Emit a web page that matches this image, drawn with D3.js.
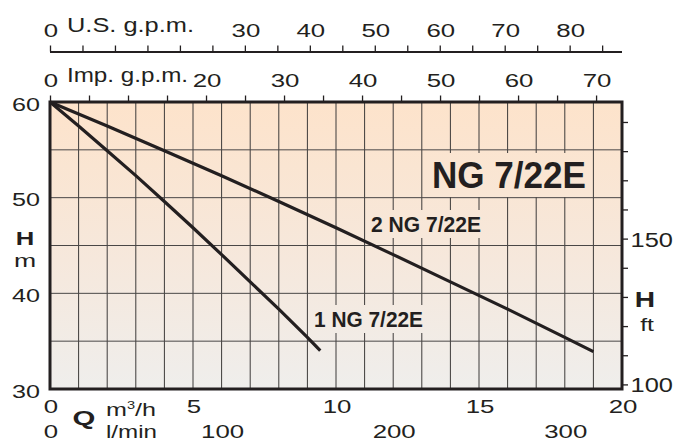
<!DOCTYPE html>
<html>
<head>
<meta charset="utf-8">
<script src="https://cdn.jsdelivr.net/npm/d3@7"></script>
<style>
  html,body{margin:0;padding:0;background:#fff;}
  svg{display:block;}
  text{font-family:"Liberation Sans",Arial,Helvetica,sans-serif;fill:#231f20;}
</style>
</head>
<body>
<svg id="chart" width="696" height="441"></svg>
<script>
// ---------- data ----------
const qTicks = [0, 5, 10, 15, 20];              // m3/h labels
const qGrid = d3.range(0, 21, 1);               // m3/h grid lines
const lminTicks = [0, 100, 200, 300];           // l/min labels
const usTicks = d3.range(0, 86, 5);             // U.S. g.p.m. tick marks
const usLabels = [0, 30, 40, 50, 60, 70, 80];
const impTicks = d3.range(0, 71, 5);            // Imp. g.p.m. tick marks
const impLabels = [0, 20, 30, 40, 50, 60, 70];
const hmLabels = [30, 40, 50, 60];              // H m labels
const hmGrid = [35, 40, 45, 50, 55];
const ftTicks = d3.range(100, 191, 10);         // H ft tick marks
const ftLabels = [100, 150];

const q1 = [0, 1, 2, 3, 4, 5, 6, 7, 8, 9, 9.45];
const h1 = [60, 57.5, 54.9, 52.3, 49.6, 46.85, 44.05, 41.2, 38.35, 35.4, 34.0];
const q2 = [0, 2, 4, 6, 8, 10, 12, 14, 16, 18, 19];
const h2 = [60, 57.5, 54.9, 52.3, 49.6, 46.85, 44.05, 41.2, 38.35, 35.4, 33.9];

const title = "NG 7/22E";
const name1 = "1 NG 7/22E";
const name2 = "2 NG 7/22E";

// ---------- scales ----------
const L = 50, R = 622, T = 102, B = 389;
const x = d3.scaleLinear([0, 20], [L, R]);
const y = d3.scaleLinear([30, 60], [B, T]);
const xUS = d3.scaleLinear([0, 20 * 4.40287], [L, R]);
const xImp = d3.scaleLinear([0, 20 * 3.66615], [L, R]);
const xL = d3.scaleLinear([0, 20 * 1000 / 60], [L, R]);
const yFt = d3.scaleLinear([30 / 0.3048, 60 / 0.3048], [B, T]);

const svg = d3.select("#chart");
const ink = "#231f20";

// gradient
const defs = svg.append("defs");
const grad = defs.append("linearGradient").attr("id", "bg")
  .attr("gradientUnits", "userSpaceOnUse")
  .attr("x1", 0).attr("y1", T).attr("x2", 0).attr("y2", B);
grad.append("stop").attr("offset", "0%").attr("stop-color", "#fde3cb");
grad.append("stop").attr("offset", "55%").attr("stop-color", "#f6e8dc");
grad.append("stop").attr("offset", "100%").attr("stop-color", "#efeeec");

svg.append("rect").attr("x", L).attr("y", T).attr("width", R - L).attr("height", B - T)
  .attr("fill", "url(#bg)");

// grid
const grid = svg.append("g");
grid.selectAll("line.v").data(qGrid.filter(d => d > 0 && d < 20)).join("line")
  .attr("x1", d => x(d)).attr("x2", d => x(d)).attr("y1", T).attr("y2", B)
  .attr("stroke", "#3d3b3a").attr("stroke-width", 1);
grid.selectAll("line.h").data(hmGrid).join("line")
  .attr("x1", L).attr("x2", R).attr("y1", d => y(d)).attr("y2", d => y(d))
  .attr("stroke", "#4a4746").attr("stroke-width", 1);

// helper for wide text
function label(g, px, py, txt, o) {
  const t = g.append("text")
    .attr("transform", `translate(${px},${py}) scale(${o.sx || 1},1)`)
    .attr("text-anchor", o.anchor || "middle")
    .attr("font-size", o.size)
    .attr("font-weight", o.weight || "normal")
    .text(txt);
  if (o.len) t.attr("textLength", o.len).attr("lengthAdjust", "spacingAndGlyphs");
  return t;
}

// curve labels with background boxes
const lab = svg.append("g");
function boxed(px, py, txt, size, len) {
  const g = lab.append("g");
  const r = g.append("rect").attr("fill", "url(#bg)");
  const t = label(g, px, py, txt, {size: size, anchor: "start", weight: "bold", len: len});
  const bb = t.node().getBBox();
  r.attr("x", px + bb.x - 5).attr("y", py + bb.y - 2).attr("width", bb.width + 10).attr("height", bb.height + 3);
}
boxed(432, 188, title, 37, 154);
boxed(371, 232, name2, 22, 110);
boxed(314, 327, name1, 22, 109);

// curves
const line = d3.line().x(d => x(d[0])).y(d => y(d[1]));
svg.append("path").datum(q1.map((q, i) => [q, h1[i]])).attr("d", line)
  .attr("fill", "none").attr("stroke", ink).attr("stroke-width", 3.2);
svg.append("path").datum(q2.map((q, i) => [q, h2[i]])).attr("d", line)
  .attr("fill", "none").attr("stroke", ink).attr("stroke-width", 3.2);

// top US axis
const gUS = svg.append("g").attr("transform", "translate(0,51.5)")
  .call(d3.axisTop(xUS).tickValues(usTicks).tickSize(6).tickSizeOuter(0).tickFormat(""));
gUS.select(".domain").attr("stroke", ink).attr("stroke-width", 2)
  .attr("d", `M${L},0.5H${R}`);
gUS.selectAll(".tick line").attr("stroke", ink).attr("stroke-width", 1.3);

// Imp axis ticks (on top of plot)
const gImp = svg.append("g").attr("transform", `translate(0,${T})`)
  .call(d3.axisTop(xImp).tickValues(impTicks).tickSize(6.5).tickSizeOuter(0).tickFormat(""));
gImp.select(".domain").remove();
gImp.selectAll(".tick line").attr("stroke", ink).attr("stroke-width", 1.3);

// right ft ticks
const gFt = svg.append("g").attr("transform", `translate(${R},0)`)
  .call(d3.axisRight(yFt).tickValues(ftTicks).tickSize(6).tickSizeOuter(0).tickFormat(""));
gFt.select(".domain").remove();
gFt.selectAll(".tick line").attr("stroke", ink).attr("stroke-width", 1.3);

// frame
svg.append("rect").attr("x", L).attr("y", T).attr("width", R - L).attr("height", B - T)
  .attr("fill", "none").attr("stroke", ink).attr("stroke-width", 3);

// labels
const tl = svg.append("g");
const SX = 1.36;
usLabels.forEach(v => label(tl, xUS(v) + 1, 37, v, {size: 19, sx: SX}));
label(tl, 67, 32, "U.S. g.p.m.", {size: 21, anchor: "start", len: 127});
impLabels.forEach(v => label(tl, xImp(v) + 1, 87, v, {size: 19, sx: SX}));
label(tl, 67, 82, "Imp. g.p.m.", {size: 21, anchor: "start", len: 121});

hmLabels.forEach(v => label(tl, 40, y(v) + 8.5, v, {size: 18.5, sx: SX, anchor: "end"}));
ftLabels.forEach(v => label(tl, 630.5, yFt(v) + 8, v, {size: 20, sx: 1.27, anchor: "start"}));

label(tl, 25, 245, "H", {size: 19, weight: "bold", sx: 1.35});
label(tl, 25, 266.5, "m", {size: 19, sx: 1.4});
label(tl, 645, 307, "H", {size: 22, weight: "bold", sx: 1.28});
label(tl, 647, 331, "ft", {size: 19, sx: 1.3});

qTicks.forEach(v => label(tl, x(v) + 1, 412.5, v, {size: 19, sx: SX}));
lminTicks.forEach(v => label(tl, xL(v) + 1, 437.5, v, {size: 19, sx: SX}));
label(tl, 84, 425, "Q", {size: 21, weight: "bold", sx: 1.4});
const mh = tl.append("text").attr("x", 106).attr("y", 415.5).attr("font-size", 19)
  .attr("textLength", 50).attr("lengthAdjust", "spacingAndGlyphs");
mh.append("tspan").text("m");
mh.append("tspan").attr("font-size", 11).attr("dy", -7).text("3");
mh.append("tspan").attr("dy", 7).text("/h");
label(tl, 106, 437.5, "l/min", {size: 19, anchor: "start", len: 51});
</script>
</body>
</html>
